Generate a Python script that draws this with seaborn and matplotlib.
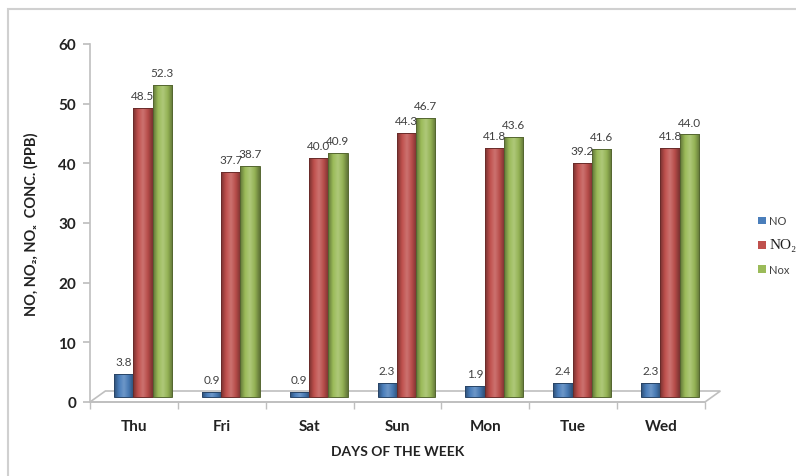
import numpy as np
import pandas as pd
import matplotlib
matplotlib.use("Agg")
import matplotlib.pyplot as plt
import matplotlib.transforms as mtransforms
import seaborn as sns
from matplotlib.colors import LinearSegmentedColormap, to_rgb
from matplotlib.patches import Rectangle, Polygon, Patch

days = ["Thu", "Fri", "Sat", "Sun", "Mon", "Tue", "Wed"]
series = ["NO", "NO\u2082", "Nox"]
no_vals = [3.8, 0.9, 0.9, 2.3, 1.9, 2.4, 2.3]
no2_vals = [48.5, 37.7, 40.0, 44.3, 41.8, 39.2, 41.8]
nox_vals = [52.3, 38.7, 40.9, 46.7, 43.6, 41.6, 44.0]
y_ticks = [0, 10, 20, 30, 40, 50, 60]

colors = ["#4A7EBB", "#C0504D", "#9BBB59"]

df = pd.DataFrame({
    "day": days * 3,
    "series": [series[0]] * 7 + [series[1]] * 7 + [series[2]] * 7,
    "value": no_vals + no2_vals + nox_vals,
})

sns.set_theme(style="white")
plt.rcParams["font.family"] = ["Lato", "DejaVu Sans"]

fig = plt.figure(figsize=(7.96, 4.77), dpi=100)
ax = fig.add_axes([90 / 796, 1 - 403 / 477, (705 - 90) / 796, (403 - 45) / 477])

sns.barplot(data=df, x="day", y="value", hue="series", order=days,
            hue_order=series, palette=colors, width=0.66, gap=0,
            saturation=1, ax=ax, legend=False, edgecolor="none")

ax.set_ylim(0, 60)
ax.set_xlim(-0.5, 6.5)
xl, yl = ax.get_xlim(), ax.get_ylim()

# bars stand slightly behind the front edge of the floor (depth offset)
depth = mtransforms.ScaledTranslation(9 / 100, 5 / 100, fig.dpi_scale_trans)


def shade(c, f):
    r = np.array(to_rgb(c))
    return tuple(np.clip(r * f, 0, 1)) if f < 1 else tuple(r + (1 - r) * (f - 1))


# cylinder-like horizontal shading on each bar
bars = [p for p in ax.patches if isinstance(p, Rectangle) and p.get_height() > 0]
grad = np.linspace(0, 1, 64).reshape(1, -1)
for p in bars:
    fc = p.get_facecolor()
    cmap = LinearSegmentedColormap.from_list(
        "cyl", [shade(fc, 0.62), shade(fc, 1.0), shade(fc, 1.2), shade(fc, 0.95), shade(fc, 0.62)])
    x0, w, h = p.get_x(), p.get_width(), p.get_height()
    p.set_transform(ax.transData + depth)
    im = ax.imshow(grad, cmap=cmap, aspect="auto", extent=[x0, x0 + w, 0, h],
                   zorder=2.1, interpolation="bicubic")
    im.set_transform(ax.transData + depth)
    im.set_clip_path(p)
    p.set_facecolor("none")
    p.set_edgecolor(shade(fc, 0.55))
    p.set_linewidth(0.7)
    p.set_zorder(2.2)

ax.set_xlim(xl)
ax.set_ylim(yl)

# value labels
groups = [no_vals, no2_vals, nox_vals]
for k, container in enumerate(ax.containers):
    anns = ax.bar_label(container, labels=[f"{v:.1f}" for v in groups[k]],
                        padding=4, fontsize=8.5, color="#404040",
                        family=["Lato", "DejaVu Sans"])
    for a in anns:
        a.xyann = (9 * 0.72, 5 * 0.72 + 5)

# floor of the plot area
floor = Polygon([(0, 0), (1, 0), (1.025, 11 / 358), (0.025, 11 / 358)],
                closed=True, transform=ax.transAxes, clip_on=False,
                facecolor="none", edgecolor="#BFBFBF", lw=1.2, zorder=0.5)
ax.add_patch(floor)

sns.despine(ax=ax, top=True, right=True)
for s in ("left", "bottom"):
    ax.spines[s].set_color("#BFBFBF")
    ax.spines[s].set_linewidth(1.2)

ax.set_yticks(y_ticks)
ax.set_yticklabels([str(t) for t in y_ticks], fontsize=11, fontweight="bold", color="#222222")
ax.set_xticks(range(len(days)))
ax.set_xticklabels(days, fontsize=11, fontweight="bold", color="#222222")
ax.set_xticks(np.arange(-0.5, 7, 1), minor=True)
ax.tick_params(axis="x", which="major", length=0, pad=12)
ax.tick_params(axis="x", which="minor", length=5, color="#BFBFBF", direction="out", bottom=True)
ax.tick_params(axis="y", length=5, color="#BFBFBF", direction="out", left=True, pad=5)

ax.set_xlabel("DAYS OF THE WEEK", fontsize=10, fontweight="bold", color="#222222", labelpad=9)
ax.set_ylabel("NO, NO\u2082, NO\u2093  CONC. (PPB)", fontsize=10.5, fontweight="bold",
              color="#222222", labelpad=14)

# legend at the right
handles = [Patch(facecolor=c, edgecolor="none") for c in colors]
leg = fig.legend(handles, series, loc="center left", bbox_to_anchor=(748 / 796, 1 - 246 / 477),
                 frameon=False, fontsize=8, handlelength=0.7, handleheight=0.7,
                 handletextpad=0.3, labelspacing=1.1)
for t in leg.get_texts():
    t.set_color("#404040")
leg.get_texts()[1].set_fontfamily(["Liberation Serif", "DejaVu Serif"])
leg.get_texts()[1].set_fontsize(11)
leg.get_texts()[1].set_color("#202020")

# outer chart frame
frame = Rectangle((8 / 796, -0.05), 1.0, 1 - 10 / 477 + 0.05, transform=fig.transFigure,
                  facecolor="none", edgecolor="#D0D0D0", lw=1.5, clip_on=False)
fig.add_artist(frame)

fig.savefig("out.png", dpi=100)
